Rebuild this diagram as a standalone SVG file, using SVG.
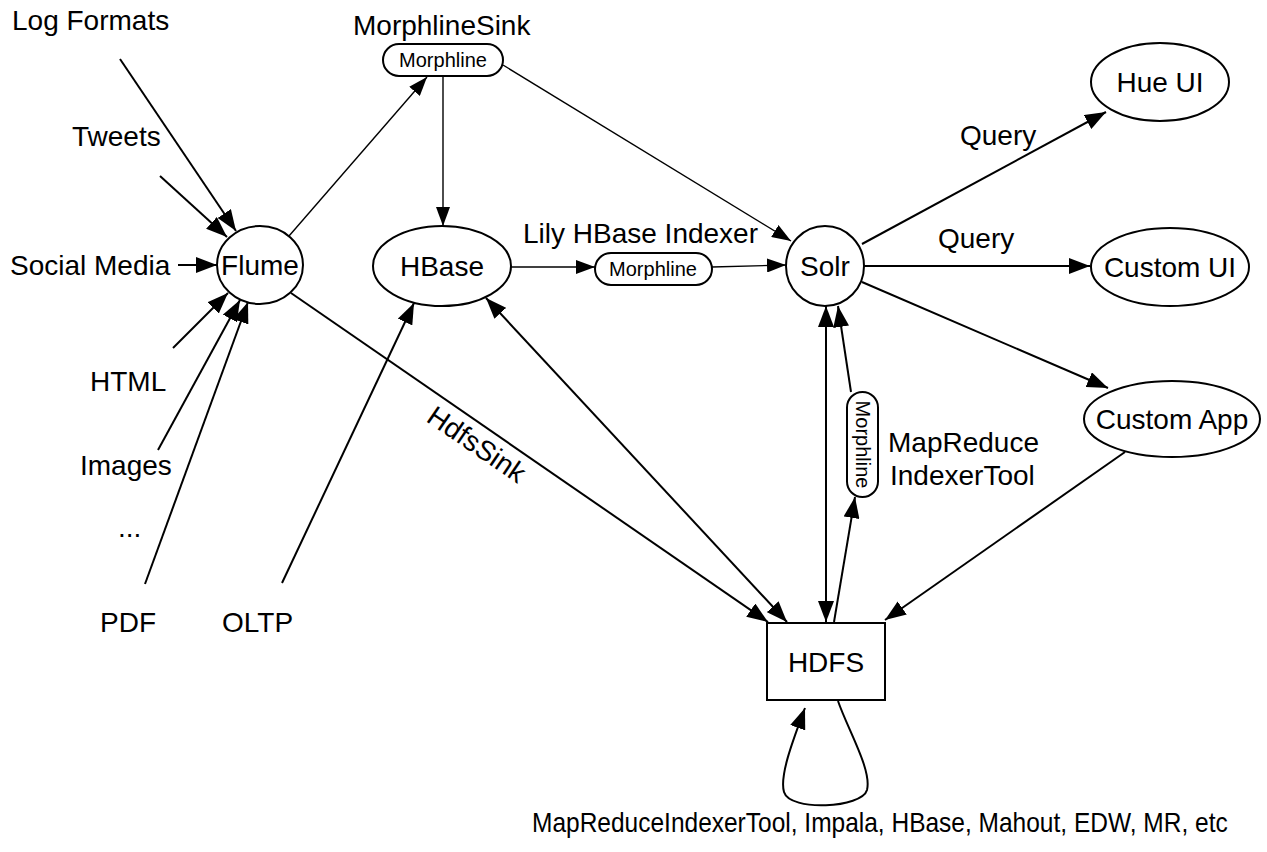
<svg xmlns="http://www.w3.org/2000/svg" width="1267" height="852" viewBox="0 0 1267 852">
<defs>
<marker id="ah" markerUnits="userSpaceOnUse" markerWidth="22" markerHeight="16" refX="21" refY="8" orient="auto-start-reverse">
<path d="M0,0 L21,8 L0,16 z" fill="#000"/>
</marker>
<marker id="ahs" markerUnits="userSpaceOnUse" markerWidth="20" markerHeight="14" refX="19" refY="7" orient="auto-start-reverse">
<path d="M0,0 L19,7 L0,14 z" fill="#000"/>
</marker>
</defs>
<style>
text{font-family:"Liberation Sans",Arial,Helvetica,sans-serif;fill:#000}
.lbl{font-size:28px}
.sm{font-size:20px}
.mid{text-anchor:middle}
.node{fill:#fff;stroke:#000;stroke-width:2}
.c{fill:none;stroke:#000;stroke-width:2;marker-end:url(#ah)}
.t{fill:none;stroke:#000;stroke-width:1.4;marker-end:url(#ahs)}
.d{marker-start:url(#ah)}
</style>
<rect width="1267" height="852" fill="#fff"/>

<g id="connectors">
<line class="c" x1="120" y1="59" x2="236" y2="231"/>
<line class="c" x1="160" y1="176" x2="227" y2="237"/>
<line class="c" x1="178" y1="265" x2="217" y2="265"/>
<line class="c" x1="173" y1="348" x2="228" y2="293"/>
<line class="c" x1="158" y1="450" x2="240" y2="300"/>
<line class="c" x1="145" y1="584" x2="248" y2="302"/>
<line class="t" x1="289" y1="236" x2="427" y2="77"/>
<line class="t" x1="443" y1="76" x2="443" y2="226"/>
<line class="t" x1="503" y1="65" x2="791" y2="241"/>
<line class="t" x1="511" y1="267" x2="595" y2="267"/>
<line class="t" x1="712" y1="267" x2="786" y2="265"/>
<line class="c" x1="291" y1="293" x2="768" y2="622"/>
<line class="c d" x1="486" y1="298" x2="787" y2="622"/>
<line class="c" x1="282" y1="583" x2="414" y2="303"/>
<line class="c" x1="862" y1="244" x2="1106" y2="112"/>
<line class="c" x1="864" y1="266" x2="1090" y2="266"/>
<line class="c" x1="862" y1="282" x2="1108" y2="388"/>
<line class="c" x1="1125" y1="452" x2="885" y2="620"/>
<line class="c d" x1="826" y1="306" x2="826" y2="622"/>
<line class="c" x1="834" y1="622" x2="855" y2="497"/>
<line class="c" x1="851" y1="392" x2="838" y2="306"/>
<path class="c" d="M838,701 C848,730 872,770 867,790 C862,808 790,812 784,792 C779,775 795,735 805,708"/>
<text class="lbl" transform="translate(477,444) rotate(34.3)" x="0" y="10" text-anchor="middle">HdfsSink</text>
<text class="lbl" x="960" y="145">Query</text>
<text class="lbl" x="938" y="248">Query</text>
<text class="lbl" x="523" y="243">Lily HBase Indexer</text>
<text class="lbl" x="353" y="35">MorphlineSink</text>
</g>

<g id="src-log"><text class="lbl" x="12" y="30">Log Formats</text></g>
<g id="src-tweets"><text class="lbl" x="72" y="146">Tweets</text></g>
<g id="src-social"><text class="lbl" x="10" y="275">Social Media</text></g>
<g id="src-html"><text class="lbl" x="90" y="391">HTML</text></g>
<g id="src-images"><text class="lbl" x="80" y="475">Images</text></g>
<g id="src-more"><text class="lbl" x="118" y="537">...</text></g>
<g id="src-pdf"><text class="lbl" x="100" y="632">PDF</text></g>
<g id="src-oltp"><text class="lbl" x="222" y="632">OLTP</text></g>

<g id="flume"><ellipse class="node" cx="260" cy="265" rx="43" ry="39"/><text class="lbl mid" x="260" y="275">Flume</text></g>
<g id="morphline-sink"><rect class="node" x="383" y="44" width="120" height="32" rx="16"/><text class="sm mid" x="443" y="67">Morphline</text></g>
<g id="hbase"><ellipse class="node" cx="442" cy="266" rx="69" ry="40"/><text class="lbl mid" x="442" y="276">HBase</text></g>
<g id="morphline-lily"><rect class="node" x="595" y="253" width="117" height="32" rx="16"/><text class="sm mid" x="653" y="276">Morphline</text></g>
<g id="solr"><ellipse class="node" cx="825" cy="266" rx="39" ry="40"/><text class="lbl mid" x="825" y="276">Solr</text></g>
<g id="hue"><ellipse class="node" cx="1160" cy="82" rx="69" ry="39"/><text class="lbl mid" x="1160" y="92">Hue UI</text></g>
<g id="custom-ui"><ellipse class="node" cx="1170" cy="267" rx="79" ry="39"/><text class="lbl mid" x="1170" y="277">Custom UI</text></g>
<g id="custom-app"><ellipse class="node" cx="1172" cy="419" rx="88" ry="38"/><text class="lbl mid" x="1172" y="429">Custom App</text></g>
<g id="morphline-mr"><rect class="node" x="847" y="392" width="31" height="105" rx="15.5"/><text class="sm mid" transform="translate(862.5,444.5) rotate(90)" x="0" y="7">Morphline</text></g>
<g id="mr-label"><text class="lbl" x="888" y="452">MapReduce</text><text class="lbl" x="890" y="485">IndexerTool</text></g>
<g id="hdfs"><rect class="node" x="767" y="623" width="118" height="77"/><text class="lbl mid" x="826" y="672">HDFS</text></g>
<g id="bottom-label"><text transform="translate(532,832) scale(1,1.14)" x="0" y="0" style="font-size:24.5px">MapReduceIndexerTool, Impala, HBase, Mahout, EDW, MR, etc</text></g>
</svg>
